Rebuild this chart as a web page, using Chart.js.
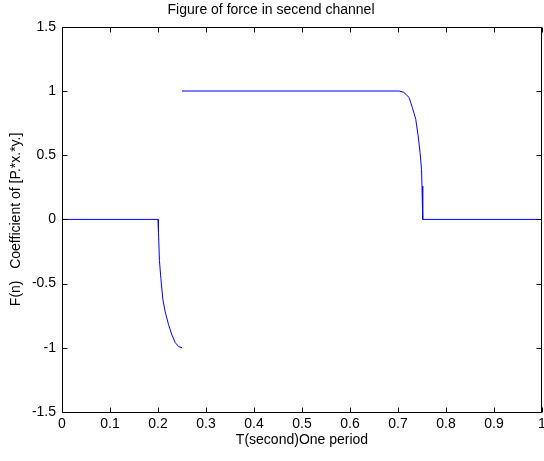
<!DOCTYPE html>
<html>
<head>
<meta charset="utf-8">
<script src="https://cdn.jsdelivr.net/npm/chart.js@4.4.1/dist/chart.umd.min.js"></script>
<style>
  html, body { margin: 0; padding: 0; background: #fff; }
  #wrap { width: 544px; height: 461px; }
</style>
</head>
<body>
<div id="wrap"><canvas id="chartForce" width="544" height="461"></canvas></div>
<script>
// force curve over one period, read as (time, coefficient) pairs
// null breaks the line at the jump from -1 to 1
const timeSec = [
  0, 0.2,
  0.201, 0.203, 0.206, 0.210, 0.215, 0.222, 0.229, 0.236, 0.243, 0.250,
  null,
  0.250, 0.702, 0.712, 0.723, 0.730, 0.737, 0.742, 0.746, 0.749, 0.750, 0.751, 0.752,
  1.0
];
const forceCoef = [
  0, 0,
  -0.10, -0.32, -0.46, -0.62, -0.72, -0.82, -0.90, -0.96, -0.99, -1.0,
  null,
  1.0, 1.0, 0.99, 0.95, 0.87, 0.78, 0.65, 0.52, 0.39, 0.26, 0.13, 0,
  0
];

const xTicks = [0, 0.1, 0.2, 0.3, 0.4, 0.5, 0.6, 0.7, 0.8, 0.9, 1];
const xTickLabels = ['0', '0.1', '0.2', '0.3', '0.4', '0.5', '0.6', '0.7', '0.8', '0.9', '1'];
const yTicks = [-1.5, -1, -0.5, 0, 0.5, 1, 1.5];
const yTickLabels = ['-1.5', '-1', '-0.5', '0', '0.5', '1', '1.5'];

const points = timeSec.map((t, i) => (t === null ? { x: NaN, y: null } : { x: t, y: forceCoef[i] }));

// box around the axes with inward ticks on all four sides
const axesBox = {
  id: 'axesBox',
  afterDraw(chart) {
    const { ctx, chartArea: a, scales } = chart;
    const len = 5;
    const l = Math.round(a.left) + 0.5, r = Math.round(a.right) - 0.5;
    const t = Math.round(a.top) + 0.5, b = Math.round(a.bottom) + 0.5;
    ctx.save();
    ctx.strokeStyle = '#000';
    ctx.lineWidth = 1;
    ctx.beginPath();
    ctx.rect(l, t, r - l, b - t);
    for (const v of xTicks) {
      const px = Math.round(scales.x.getPixelForValue(v)) + 0.5;
      ctx.moveTo(px, b); ctx.lineTo(px, b - len);
      ctx.moveTo(px, t); ctx.lineTo(px, t + len);
    }
    for (const v of yTicks) {
      const py = Math.round(scales.y.getPixelForValue(v)) + 0.5;
      ctx.moveTo(l, py); ctx.lineTo(l + len, py);
      ctx.moveTo(r, py); ctx.lineTo(r - len, py);
    }
    ctx.stroke();
    ctx.restore();
  }
};

Chart.defaults.font.family = '"Liberation Sans", Arial, sans-serif';
Chart.defaults.font.size = 14;
Chart.defaults.color = '#000';

new Chart(document.getElementById('chartForce'), {
  type: 'scatter',
  data: {
    datasets: [{
      data: points,
      showLine: true,
      spanGaps: false,
      borderColor: '#0000ff',
      borderWidth: 1,
      pointRadius: 0,
      fill: false,
      tension: 0
    }]
  },
  options: {
    responsive: false,
    animation: false,
    layout: { padding: { top: 0, right: 2, left: 0, bottom: 0 } },
    plugins: {
      legend: { display: false },
      tooltip: { enabled: false },
      title: {
        display: true,
        text: 'Figure of force in secend channel',
        font: { size: 14, weight: 'normal' },
        padding: { top: 2, bottom: 8 }
      }
    },
    scales: {
      x: {
        type: 'linear',
        min: 0, max: 1,
        afterBuildTicks: s => { s.ticks = xTicks.map(v => ({ value: v })); },
        afterFit: s => { s.height = 49; s.paddingLeft = 0; s.paddingRight = 0; },
        grid: { display: false, drawTicks: false, tickLength: 0 },
        border: { display: false },
        ticks: {
          autoSkip: false, maxRotation: 0, padding: 4,
          callback: (v, i) => xTickLabels[i]
        },
        title: { display: true, text: 'T(second)One period', padding: { top: 0, bottom: 12 } }
      },
      y: {
        type: 'linear',
        min: -1.5, max: 1.5,
        afterBuildTicks: s => { s.ticks = yTicks.map(v => ({ value: v })); },
        afterFit: s => { s.width = 62; s.paddingTop = 0; s.paddingBottom = 0; },
        grid: { display: false, drawTicks: false, tickLength: 0 },
        border: { display: false },
        ticks: {
          autoSkip: false, padding: 6,
          callback: (v, i) => yTickLabels[i]
        },
        title: { display: true, text: 'F(n)   Coefficient of [P.*x.*y.]', padding: { top: 8, bottom: 0 } }
      }
    }
  },
  plugins: [axesBox]
});
</script>
</body>
</html>
